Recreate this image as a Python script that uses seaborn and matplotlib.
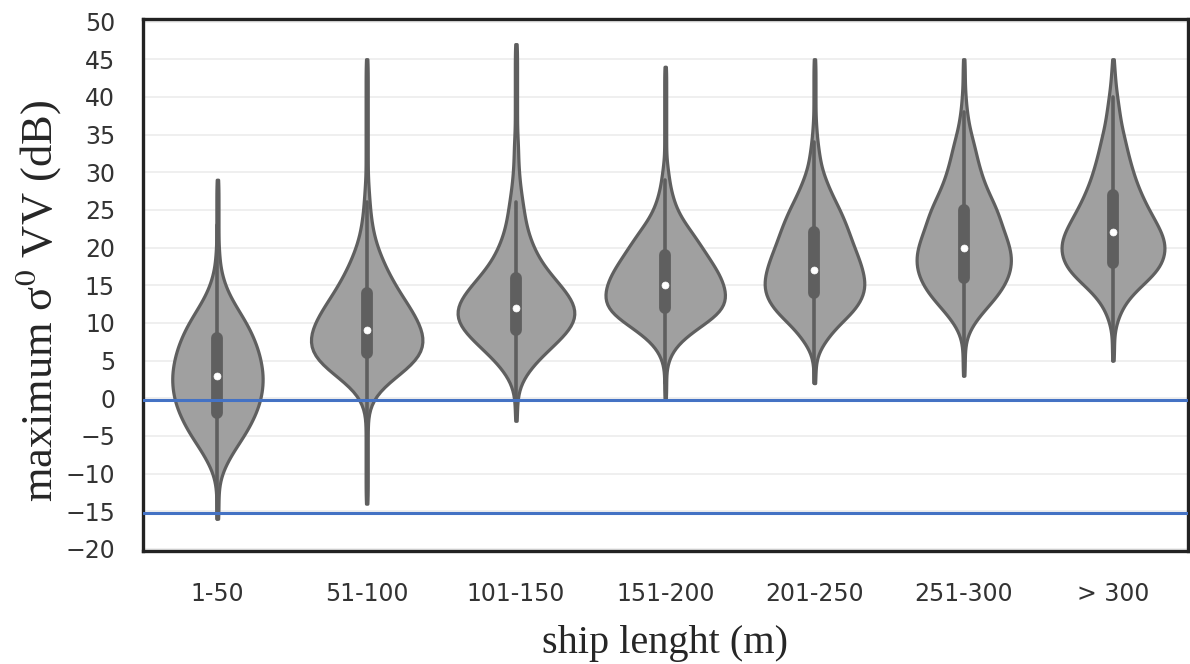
import numpy as np
import pandas as pd
import seaborn as sns
import matplotlib.pyplot as plt

categories = ["1-50", "51-100", "101-150", "151-200", "201-250", "251-300", "> 300"]

# lowest dB value of each class, then ship counts per 1 dB step
start_db = [-16, -14, -3, 0, 2, 3, 5]

counts_1_50 = [1, 1, 1, 1, 1, 2, 4, 7, 11, 15, 20, 25, 29, 33, 36, 39, 41, 42, 43, 43,
               42, 41, 39, 37, 34, 31, 27, 23, 18, 14, 10, 7, 5, 3, 2, 2,
               1, 1, 1, 1, 1, 1, 1, 1, 1, 1]
counts_51_100 = [1, 1, 1, 1, 1, 1, 1, 1, 1, 1, 1, 1, 1,
                 3, 6, 11, 19, 29, 39, 47, 52, 54, 54, 52, 49, 45, 41, 36, 31, 27, 23, 19, 16,
                 13, 10, 8, 6, 5, 4, 3, 3, 2, 2,
                 1, 1, 1, 1, 1, 1, 1, 1, 1, 1, 1, 1, 1, 1, 1, 1, 1]
counts_101_150 = [1, 1, 1, 1,
                  2, 4, 8, 13, 19, 26, 34, 41, 48, 53, 55, 54, 51, 46, 40, 34, 28, 23, 19, 16,
                  13, 11, 9, 8, 7, 6, 5, 4, 3, 3, 2, 2, 2, 2,
                  1, 1, 1, 1, 1, 1, 1, 1, 1, 1, 1, 1, 1]
counts_151_200 = [1, 1, 1, 1, 1,
                  3, 6, 11, 19, 29, 41, 52, 59, 61, 61, 59, 56, 52, 47, 42, 37, 32, 27, 21, 16,
                  12, 9, 7, 5, 4, 3, 2,
                  1, 1, 1, 1, 1, 1, 1, 1, 1, 1, 1, 1, 1]
counts_201_250 = [1, 1, 1, 1,
                  3, 7, 13, 18, 25, 35, 41, 46, 49, 50, 49, 47, 45, 42, 39, 36, 34, 31, 28, 25,
                  21, 17, 14, 11, 8, 6, 5, 4, 3, 2, 2,
                  1, 1, 1, 1, 1, 1, 1, 1, 1]
counts_251_300 = [1, 1, 1, 1, 1,
                  2, 5, 9, 15, 21, 28, 34, 38, 42, 44, 45, 45, 43, 41, 38, 35, 34, 31, 28, 24,
                  21, 18, 16, 14, 12, 11, 9, 7, 5, 4, 3, 2, 2,
                  1, 1, 1, 1, 1]
counts_over_300 = [1, 1, 1, 1, 1,
                   3, 6, 8, 13, 19, 27, 36, 43, 47, 49, 50, 49, 46, 42, 38, 34, 30, 27, 24, 21,
                   19, 17, 15, 13, 12, 10, 8, 7, 6, 5, 4, 3, 2, 2, 1, 1]

ref_lines = [-0.3, -15.3]

counts = [counts_1_50, counts_51_100, counts_101_150, counts_151_200,
          counts_201_250, counts_251_300, counts_over_300]
frames = []
for cat, lo, cnt in zip(categories, start_db, counts):
    db = np.arange(lo, lo + len(cnt))
    frames.append(pd.DataFrame({"length": cat, "sigma0": np.repeat(db, cnt)}))
df = pd.concat(frames, ignore_index=True)

sns.set_theme(style="whitegrid")
plt.rcParams["font.family"] = ["DejaVu Sans"]
plt.rcParams["mathtext.fontset"] = "stix"

fig, ax = plt.subplots(figsize=(11.9, 6.64), dpi=100)
fig.subplots_adjust(left=0.12, right=0.998, top=0.971, bottom=0.17)

sns.violinplot(data=df, x="length", y="sigma0", order=categories,
               color="#a0a0a0", linecolor="#5f5f5f", linewidth=2.3,
               cut=0, bw_adjust=0.75, saturation=1, inner="box",
               inner_kws=dict(box_width=8.5, whis_width=2.6, marker="o",
                              markersize=5, markeredgewidth=0.5,
                              solid_capstyle="round"),
               ax=ax)

for y in ref_lines:
    ax.axhline(y, color="#4472c4", lw=2.2, zorder=3)

ax.set_ylim(-20.3, 50.3)
ax.set_yticks(range(-20, 51, 5))
ax.grid(axis="y", color="#ececec", lw=1.2)
ax.grid(axis="x", visible=False)
for s in ax.spines.values():
    s.set_color("#222222")
    s.set_linewidth(2.4)
ax.tick_params(axis="y", length=0, pad=20, labelsize=17, labelcolor="#333333")
ax.tick_params(axis="x", length=0, pad=22, labelsize=17, labelcolor="#333333")

ax.set_xlabel("ship lenght (m)", family="Liberation Serif", fontsize=29, labelpad=14)
ax.set_ylabel("maximum σ$^{0}$ VV (dB)", family="Liberation Serif", fontsize=32)
ax.yaxis.set_label_coords(-0.076, 0.47)

fig.savefig("out.png")
